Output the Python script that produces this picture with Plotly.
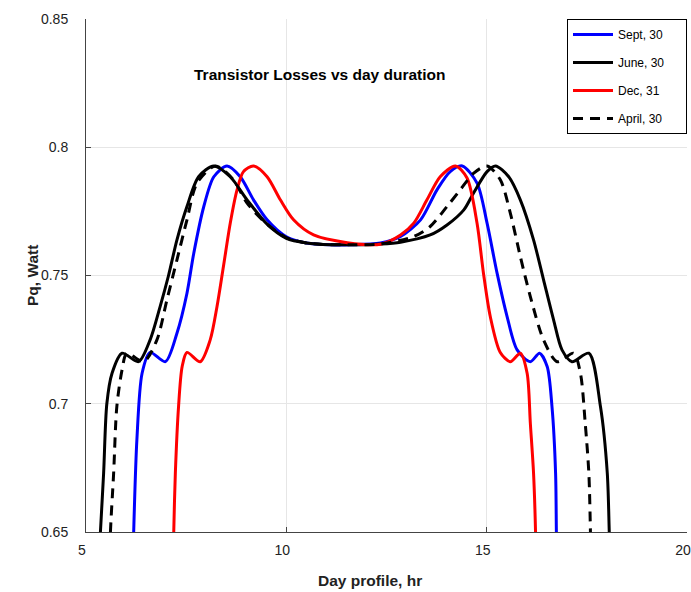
import plotly.graph_objects as go

# ---- data ----
sept_x = [6.16, 6.19, 6.27, 6.40, 6.60, 6.98, 7.27, 7.52, 7.69, 7.94, 8.19, 8.52, 8.85, 9.18, 9.52, 10.0, 10.5, 11.1, 11.6,
          12.35, 12.85, 13.35, 13.76, 14.09, 14.39, 14.76, 15.01, 15.26, 15.51, 15.76, 16.09, 16.32, 16.51, 16.63, 16.72, 16.74, 16.76]
sept_y = [0.63, 0.65, 0.6859, 0.7119, 0.7200, 0.7164, 0.7275, 0.7431, 0.7587, 0.7769, 0.7885, 0.7927, 0.7885, 0.7795, 0.7717, 0.7651, 0.7627, 0.7620, 0.7620,
          0.7627, 0.7652, 0.7717, 0.7834, 0.7905, 0.7927, 0.7860, 0.7704, 0.7509, 0.7340, 0.7210, 0.7164, 0.7197, 0.7145, 0.6989, 0.6730, 0.65, 0.63]

june_x = [5.30, 5.36, 5.44, 5.52, 5.65, 5.90, 6.31, 6.60, 6.85, 7.06, 7.27, 7.52, 7.81, 8.19, 8.60, 9.02, 9.52, 10.0, 10.5, 11.1, 11.7,
          12.35, 12.85, 13.59, 14.01, 14.43, 14.67, 15.01, 15.22, 15.55, 15.84, 16.17, 16.42, 16.67, 16.88, 17.13, 17.55, 17.84, 18.01, 18.06, 18.10]
june_y = [0.63, 0.65, 0.6730, 0.7000, 0.7119, 0.7197, 0.7164, 0.7249, 0.7379, 0.7500, 0.7639, 0.7769, 0.7885, 0.7927, 0.7885, 0.7795, 0.7700, 0.7645, 0.7627, 0.7620, 0.7620,
          0.7623, 0.7630, 0.7658, 0.7697, 0.7756, 0.7821, 0.7905, 0.7927, 0.7885, 0.7795, 0.7639, 0.7483, 0.7327, 0.7210, 0.7164, 0.7197, 0.6989, 0.6730, 0.65, 0.63]

dec_x = [7.17, 7.19, 7.23, 7.31, 7.40, 7.52, 7.85, 8.10, 8.27, 8.43, 8.60, 8.77, 8.93, 9.18, 9.52, 9.85, 10.18, 10.68, 11.52,
         12.35, 12.85, 13.18, 13.51, 13.84, 14.22, 14.51, 14.76, 14.92, 15.09, 15.34, 15.59, 15.84, 16.01, 16.09, 16.17, 16.22, 16.24]
dec_y = [0.63, 0.65, 0.6730, 0.6989, 0.7145, 0.7200, 0.7164, 0.7249, 0.7379, 0.7535, 0.7704, 0.7834, 0.7905, 0.7927, 0.7885, 0.7795, 0.7717, 0.7658, 0.7628,
         0.7622, 0.7658, 0.7704, 0.7795, 0.7885, 0.7927, 0.7880, 0.7704, 0.7509, 0.7340, 0.7200, 0.7164, 0.7197, 0.7119, 0.6924, 0.6730, 0.65, 0.63]

april_x = [5.58, 5.61, 5.69, 5.77, 5.90, 6.02, 6.44, 6.77, 7.02, 7.27, 7.52, 7.77, 8.23, 8.68, 9.02, 9.52, 10.0, 10.5, 11.1, 11.7,
           12.35, 13.18, 13.59, 14.01, 14.34, 14.67, 15.01, 15.34, 15.59, 15.84, 16.09, 16.42, 16.76, 17.17, 17.34, 17.46, 17.55, 17.59, 17.61]
april_y = [0.63, 0.65, 0.6730, 0.6990, 0.7132, 0.7197, 0.7164, 0.7249, 0.7405, 0.7561, 0.7717, 0.7860, 0.7927, 0.7873, 0.7782, 0.7700, 0.7648, 0.7627, 0.7620, 0.7620,
           0.7623, 0.7652, 0.7691, 0.7769, 0.7834, 0.7898, 0.7927, 0.7873, 0.7743, 0.7574, 0.7418, 0.7249, 0.7164, 0.7197, 0.7119, 0.6924, 0.6730, 0.65, 0.63]

series = [
    ("Sept, 30", sept_x, sept_y, "#0000ff", "solid"),
    ("June, 30", june_x, june_y, "#000000", "solid"),
    ("Dec, 31", dec_x, dec_y, "#ff0000", "solid"),
    ("April, 30", april_x, april_y, "#000000", "10px,7px"),
]

x_ticks = [5, 10, 15, 20]
y_ticks = [0.65, 0.7, 0.75, 0.8, 0.85]
y_tick_text = ["0.65", "0.7", "0.75", "0.8", "0.85"]

PAD = "\u00a0" * 5  # right padding inside the legend box

fig = go.Figure()
for name, xs, ys, col, dash in series:
    fig.add_trace(go.Scatter(
        x=xs, y=ys, mode="lines", name=name + PAD, legendgroup=name,
        line=dict(color=col, width=3, dash=dash, shape="spline", smoothing=0.8),
    ))

FONT = "Arial, Liberation Sans, sans-serif"
L, R, T, B = 86, 4, 19, 60
W, H = 691, 592
pw = W - L - R
ph = H - T - B

fig.update_layout(
    width=W, height=H,
    margin=dict(l=L, r=R, t=T, b=B, autoexpand=False),
    paper_bgcolor="white", plot_bgcolor="white",
    font=dict(family=FONT, size=14, color="#222"),
    showlegend=True,
    legend=dict(
        x=1, y=1, xanchor="right", yanchor="top",
        bgcolor="white", bordercolor="black", borderwidth=1,
        font=dict(family=FONT, size=12, color="black"),
        tracegroupgap=9, itemwidth=40, traceorder="grouped",
    ),
    xaxis=dict(
        range=[5, 20], tickvals=x_ticks, ticktext=[str(v) for v in x_ticks],
        showgrid=True, gridcolor="#e6e6e6", gridwidth=1,
        showline=True, linecolor="#444", linewidth=1,
        ticks="inside", ticklen=5, tickcolor="#444", automargin=False,
        zeroline=False, ticklabelstandoff=5, ticklabelshift=-4, ticklabeloverflow="allow",
        tickfont=dict(family=FONT, size=14, color="#222"),
    ),
    yaxis=dict(
        range=[0.65, 0.85], tickvals=y_ticks, ticktext=y_tick_text,
        showgrid=True, gridcolor="#e6e6e6", gridwidth=1,
        showline=True, linecolor="#444", linewidth=1,
        ticks="inside", ticklen=5, tickcolor="#444", automargin=False,
        zeroline=False, ticklabelstandoff=14, ticklabeloverflow="allow",
        tickfont=dict(family=FONT, size=14, color="#222"),
    ),
    annotations=[
        dict(text="<b>Transistor Losses vs day duration</b>", x=(320 - L) / pw, y=(H - B - 74) / ph,
             xref="paper", yref="paper", xanchor="center", yanchor="middle",
             showarrow=False, font=dict(family=FONT, size=15.5, color="black")),
        dict(text="<b>Day profile, hr</b>", x=(370 - L) / pw, y=(H - B - 580) / ph,
             xref="paper", yref="paper", xanchor="center", yanchor="middle",
             showarrow=False, font=dict(family=FONT, size=15.5, color="#222")),
        dict(text="<b>Pq, Watt</b>", x=(32 - L) / pw, y=(H - B - 276) / ph,
             xref="paper", yref="paper", xanchor="center", yanchor="middle", textangle=-90,
             showarrow=False, font=dict(family=FONT, size=15.5, color="#222")),
    ],
)

fig.write_html("out.html")
